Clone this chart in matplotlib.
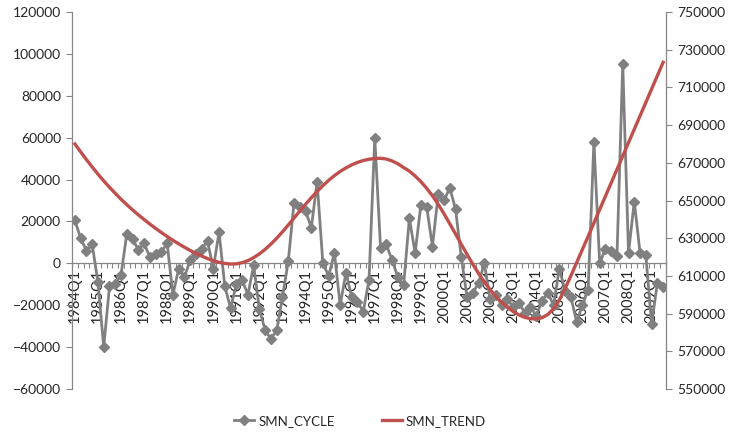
import matplotlib.pyplot as plt
import numpy as np

# quarterly categories 1984Q1 .. 2009Q3
quarters = [f"{y}Q{q}" for y in range(1984, 2010) for q in range(1, 5)][:103]

smn_cycle = [
    20500, 12000, 6000, 9000,        # 1984
    -9000, -40000, -11000, -10000,   # 1985
    -5500, 14000, 11500, 6500,       # 1986
    9500, 3000, 4300, 5500,          # 1987
    9500, -15000, -2500, -6500,      # 1988
    1500, 4500, 7000, 10500,         # 1989
    -2500, 15000, -11000, -21500,    # 1990
    -10000, -8000, -15000, -1000,    # 1991
    -22000, -32000, -36000, -32000,  # 1992
    -16000, 1000, 29000, 27000,      # 1993
    25000, 17000, 39000, 0,          # 1994
    -6000, 5000, -20000, -4500,      # 1995
    -16000, -18500, -23000, -8000,   # 1996
    60000, 7500, 9000, 1500,         # 1997
    -6500, -10500, 21500, 5000,      # 1998
    28000, 27000, 8000, 33000,       # 1999
    30000, 36000, 26000, 3000,       # 2000
    -16000, -14000, -9500, 0,        # 2001
    -17000, -15000, -20000, -17000,  # 2002
    -21000, -19000, -23500, -21000,  # 2003
    -25000, -18000, -14000, -20000,  # 2004
    -2500, -13000, -16000, -28000,   # 2005
    -20000, -12500, 58000, 0,        # 2006
    7000, 6000, 3500, 95000,         # 2007
    5000, 29500, 5000, 4000,         # 2008
    -29000, -9500, -11500,           # 2009
]

smn_trend = [
    680000, 675800, 671700, 667800,
    664000, 660400, 657000, 653800,
    650700, 647800, 645000, 642400,
    639900, 637500, 635200, 633000,
    630900, 628900, 627000, 625200,
    623500, 621900, 620500, 619200,
    618100, 617200, 616600, 616300,
    616400, 617000, 618100, 619700,
    621700, 624100, 626900, 630000,
    633400, 637000, 640700, 644400,
    648000, 651500, 654800, 657900,
    660700, 663200, 665400, 667300,
    668900, 670200, 671200, 671900,
    672300, 672400, 672000, 671000,
    669500, 667500, 665600, 663000,
    660000, 656500, 652500, 648000,
    643000, 637700, 632300, 626800,
    621400, 616200, 611300, 606800,
    602700, 599100, 596000, 593300,
    591100, 589300, 588000, 587300,
    587200, 587800, 589500, 592600,
    597200, 603300, 610000, 617000,
    624000, 631000, 638100, 645200,
    652300, 659400, 666500, 673600,
    680700, 687800, 694900, 702000,
    709100, 716200, 723300,
]

plt.rcParams['font.family'] = ['Lato', 'DejaVu Sans']
text_col = '#262626'
axis_col = '#868686'
fs = 10

fig = plt.figure(figsize=(7.32, 4.34), dpi=100)
ax = fig.add_axes([72/732, 1-389/434, (666-72)/732, (389-12)/434])
ax2 = ax.twinx()

x = np.arange(len(quarters))
l1, = ax.plot(x, smn_cycle, color='#808080', lw=2.0, marker='D', ms=5.5,
              mec='#808080', mfc='#808080', label='SMN_CYCLE')
l2, = ax2.plot(x, smn_trend, color='#C0504D', lw=2.4, label='SMN_TREND')

ax.set_xlim(-0.5, len(quarters) - 0.5)
ax.set_ylim(-60000, 120000)
ax.set_yticks(np.arange(-60000, 120001, 20000))
ax2.set_ylim(550000, 750000)
ax2.set_yticks(np.arange(550000, 750001, 20000))

# category axis crosses at zero
ax.spines['bottom'].set_position(('data', 0))
ax.set_xticks(x[::4])
ax.set_xticklabels(quarters[::4], rotation=90, fontsize=fs + 0.5, color=text_col)
ax.set_xticks(np.arange(-0.5, len(quarters), 1), minor=True)
ax.tick_params(axis='x', which='major', length=0, pad=4)
ax.tick_params(axis='x', which='minor', length=3.5, color=axis_col, width=0.8)

ax.tick_params(axis='y', length=4, color=axis_col, labelsize=fs,
               labelcolor=text_col, pad=4)
ax2.tick_params(axis='y', length=4, color=axis_col, labelsize=fs,
                labelcolor=text_col, pad=4)

for a in (ax, ax2):
    a.spines['top'].set_visible(False)
    for s in a.spines.values():
        s.set_color(axis_col)
        s.set_linewidth(0.9)
ax.spines['right'].set_visible(False)
ax2.spines['left'].set_visible(False)
ax2.spines['bottom'].set_visible(False)

fig.legend(handles=[l1, l2], loc='center', bbox_to_anchor=(0.492, 0.03),
           ncol=2, frameon=False, fontsize=9.5, handlelength=1.5,
           handletextpad=0.3, columnspacing=3.6, labelcolor=text_col)

fig.savefig('out.png', dpi=100)
